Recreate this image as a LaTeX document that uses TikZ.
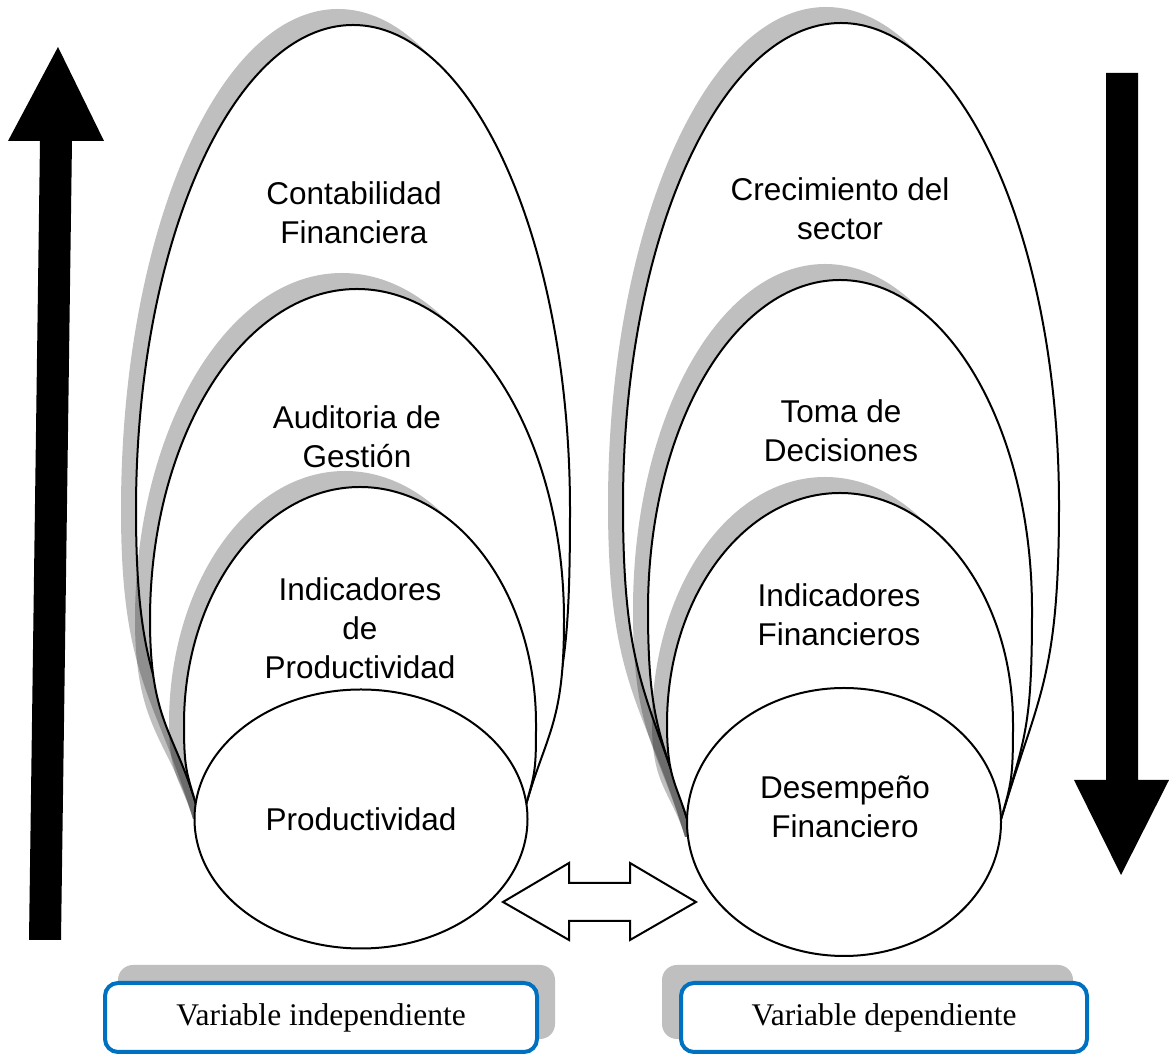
\documentclass[tikz,border=0pt]{standalone}
\usepackage{fontspec}
\setmainfont{Liberation Serif}
\newfontfamily\arialfont{Liberation Sans}
\usepackage{tikz}
\usetikzlibrary{shapes.geometric, positioning}

\definecolor{boxblue}{RGB}{0,112,192}
\definecolor{shadowgray}{RGB}{191,191,191}

% egg outline: centre x, centre y, x radius, y radius, left foot x, right foot x, foot y
\newcommand{\eggpath}[7]{%
  (#5,#7) .. controls +({-0.12*(#2-#7)},{0.4*(#2-#7)}) and +(0,{-0.55*(#2-#7)}) .. ({#1-#3},#2)
  arc[start angle=180, end angle=0, x radius=#3, y radius=#4]
  .. controls +(0,{-0.55*(#2-#7)}) and +({0.12*(#2-#7)},{0.4*(#2-#7)}) .. (#6,#7) -- cycle}

\begin{document}
\begin{tikzpicture}[
    x=1pt, y=1pt,
    eggline/.style={draw=black, fill=white, line width=2pt},
    eggshadow/.style={fill=black, fill opacity=0.25},
    circ/.style={ellipse, draw=black, fill=white, line width=2pt, inner sep=0pt},
    eggtext/.style={font=\arialfont\fontsize{31.5}{39}\selectfont, align=center},
    varbox/.style={rectangle, draw=boxblue, line width=4pt, rounded corners=13pt, fill=white, minimum height=69pt, font=\fontsize{31.5}{37}\selectfont},
    varshadow/.style={rectangle, fill=shadowgray, rounded corners=15pt, minimum height=74pt},
    bigarrow/.style={fill=black},
    twoway/.style={draw=black, fill=white, line width=2pt}
]
    \useasboundingbox (0,0) rectangle (1170,1054);
    \fill[white] (0,0) rectangle (1170,1054);

    % up and down arrows
    \fill[bigarrow] (29,114) -- (40,913) -- (8,913) -- (58,1007) -- (104,913) -- (72,913) -- (61,114) -- cycle;
    \fill[bigarrow] (1106,981) -- (1138,981) -- (1138,274) -- (1169,274) -- (1121,179) -- (1074,274) -- (1106,274) -- cycle;

    % independent variable
    \fill[eggshadow] \eggpath{338}{544}{217}{501}{193}{523}{235};
    \draw[eggline] \eggpath{353}{544}{217}{485}{196}{526}{250};
    \fill[eggshadow] \eggpath{342}{434}{207}{347}{193}{523}{235};
    \draw[eggline] \eggpath{357}{434}{207}{331}{196}{526}{250};
    \fill[eggshadow] \eggpath{345}{330}{176}{253}{193}{523}{235};
    \draw[eggline] \eggpath{360}{330}{176}{237}{196}{526}{250};

    \node[eggtext] (contab) at (354,841) {Contabilidad\\Financiera};
    \node[eggtext] (audit) at (357,617) {Auditoria de\\Gestión};
    \node[eggtext] (indprod) at (360,426) {Indicadores\\de\\Productividad};
    \node[circ, minimum width=333pt, minimum height=259pt, eggtext] (prod) at (361,235) {Productividad};

    % dependent variable
    \fill[eggshadow] \eggpath{826}{549}{218}{498}{685}{997}{217};
    \draw[eggline] \eggpath{841}{549}{218}{482}{688}{1000}{232};
    \fill[eggshadow] \eggpath{825}{444}{192}{346}{685}{997}{217};
    \draw[eggline] \eggpath{840}{444}{192}{330}{688}{1000}{232};
    \fill[eggshadow] \eggpath{825}{330}{173}{247}{685}{997}{217};
    \draw[eggline] \eggpath{840}{330}{173}{231}{688}{1000}{232};

    \node[eggtext] (crec) at (840,845) {Crecimiento del\\sector};
    \node[eggtext] (toma) at (841,623) {Toma de\\Decisiones};
    \node[eggtext] (indfin) at (839,439.5) {Indicadores\\Financieros};
    \node[circ, minimum width=314pt, minimum height=268pt] (desemp) at (844,232) {};
    \node[eggtext] (desemptext) at (845,247) {Desempeño\\Financiero};

    % two-way arrow between both
    \draw[twoway] (503,152) -- (569,191) -- (569,171) -- (630,171) -- (630,191) -- (696,152)
        -- (630,114) -- (630,133) -- (569,133) -- (569,114) -- cycle;

    % variable boxes
    \node[varshadow, minimum width=437pt] (indepshadow) at (336.5,52) {};
    \node[varbox, minimum width=432pt] (indep) at (321,36.5) {Variable independiente};
    \node[varshadow, minimum width=411pt] (depshadow) at (867.5,52) {};
    \node[varbox, minimum width=406pt] (dep) at (884,36.5) {Variable dependiente};
\end{tikzpicture}
\end{document}
